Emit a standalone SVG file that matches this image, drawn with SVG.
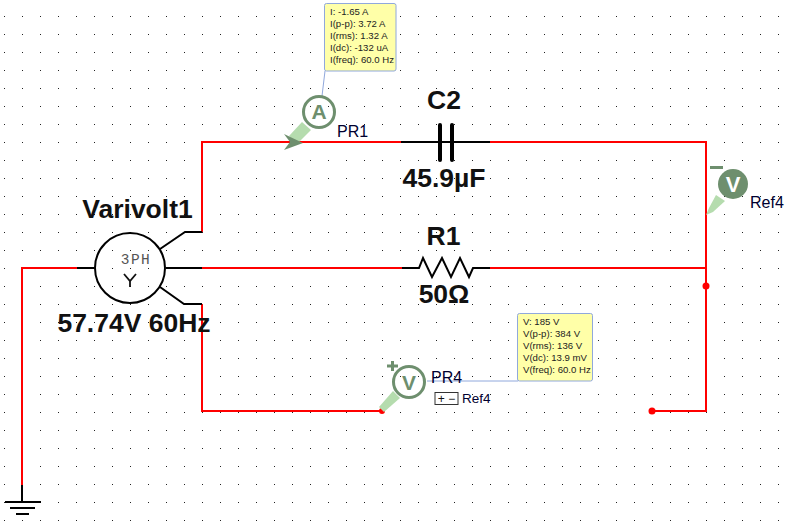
<svg xmlns="http://www.w3.org/2000/svg" width="790" height="523" viewBox="0 0 790 523">
<style>
text{font-family:"Liberation Sans",Arial,sans-serif;fill:#000}
.lab{font-size:26.5px;font-weight:bold;fill:#111}
.net{font-size:16px;fill:#000030}
.tip{font-size:9.6px;fill:#222}
.r{fill:none;stroke:#ff0000;stroke-width:2}
.k{fill:none;stroke:#000;stroke-width:2}
.tb{fill:#ffffa8;stroke:#90a8dc;stroke-width:1}
.lead{fill:none;stroke:#90a8dc;stroke-width:1}
.ring{fill:none;stroke:#6e8f6e;stroke-width:3}
.probe{fill:#b5dcae}
.dk{fill:#6e8f6e}
.gl{font-size:21px;font-weight:bold;fill:#6e8f6e}
</style>
<defs><pattern id="grid" x="0" y="0" width="18" height="18" patternUnits="userSpaceOnUse"><rect x="4" y="16" width="1" height="1" fill="#222"/></pattern></defs>
<rect width="790" height="523" fill="#fff"/>
<rect width="790" height="523" fill="url(#grid)"/>
<g id="connectors">
<path class="r" d="M77 268H22V485"/>
<path class="r" d="M202 232V142H401"/>
<path class="r" d="M490 142H706V411H652"/>
<path class="r" d="M202 268H402"/>
<path class="r" d="M490 268H706"/>
<path class="r" d="M202 304V411H382"/>
<circle cx="706" cy="286" r="3.500" fill="#ff0000"/>
<circle cx="652" cy="411" r="3.500" fill="#ff0000"/>
<circle cx="382" cy="411" r="3" fill="#ff0000"/>
</g>
<g id="Varivolt1">
<circle cx="130" cy="268" r="35" fill="none" stroke="#000" stroke-width="2"/>
<path class="k" d="M77 268H94M166 268H202M160 249L185 232H202M160 287L184 304H202"/>
<text x="136" y="264" text-anchor="middle" style="font-family:'Liberation Mono',monospace;font-size:14.500px;letter-spacing:1.500px;fill:#555">3PH</text>
<path d="M124 274L130 281L136 274M130 281V287" fill="none" stroke="#111" stroke-width="1.800"/>
<text class="lab" x="137.500" y="218" text-anchor="middle">Varivolt1</text>
<text class="lab" x="134" y="332" text-anchor="middle">57.74V 60Hz</text>
</g>
<g id="C2">
<path class="k" d="M401 142H490"/>
<path d="M440 125V160M452 125V160" fill="none" stroke="#000" stroke-width="4" stroke-linecap="round"/>
<text class="lab" x="444" y="109" text-anchor="middle">C2</text>
<text class="lab" x="444" y="187" text-anchor="middle">45.9µF</text>
</g>
<g id="R1">
<path class="k" d="M402 268H419L423 258L432 277L442 258L451 277L460 258L469 277L473 268H490"/>
<text class="lab" x="443.500" y="245" text-anchor="middle">R1</text>
<text class="lab" x="444" y="303" text-anchor="middle">50Ω</text>
</g>
<g id="ground">
<path class="k" d="M22 485V502"/>
<path class="k" d="M5 502H41M10 508H35M16 514H29"/>
</g>
<g id="PR1">
<path class="lead" d="M325 71L322 96"/>
<rect class="tb" x="324.500" y="3.500" width="71.500" height="67.500" rx="2"/>
<text class="tip"><tspan x="330" y="15">I: -1.65 A</tspan><tspan x="330" y="27">I(p-p): 3.72 A</tspan><tspan x="330" y="39">I(rms): 1.32 A</tspan><tspan x="330" y="51">I(dc): -132 uA</tspan><tspan x="330" y="63">I(freq): 60.0 Hz</tspan></text>
<path class="probe" d="M302 122L311 130L297 144L289 136Z"/>
<path class="dk" d="M284 134L303 143L284 150L290 142Z"/>
<circle class="ring" cx="319" cy="112" r="15.500"/>
<text class="gl" x="319" y="119" text-anchor="middle">A</text>
<text class="net" x="337" y="137">PR1</text>
</g>
<g id="PR4">
<path class="lead" d="M427 381H518"/>
<rect class="tb" x="517.500" y="313.500" width="75" height="67.500" rx="2"/>
<text class="tip"><tspan x="523" y="325">V: 185 V</tspan><tspan x="523" y="337">V(p-p): 384 V</tspan><tspan x="523" y="349">V(rms): 136 V</tspan><tspan x="523" y="361">V(dc): 13.9 mV</tspan><tspan x="523" y="373">V(freq): 60.0 Hz</tspan></text>
<path class="probe" d="M393 391L400 398L384 412L379 407Z"/>
<path class="dk" d="M391 361H394V364.500H398V367.500H394V371H391V367.500H387V364.500H391Z"/>
<circle class="ring" cx="409" cy="382" r="15.500"/>
<text class="gl" x="409" y="390" text-anchor="middle">V</text>
<text class="net" x="431" y="383">PR4</text>
<rect x="435" y="392.500" width="23" height="12" fill="#fff" stroke="#333" stroke-width="1"/>
<text x="446.500" y="403" text-anchor="middle" style="font-size:12px;fill:#111">+ −</text>
<text x="462" y="403" style="font-size:13.500px;fill:#000030">Ref4</text>
</g>
<g id="Ref4">
<path class="probe" d="M716 195L725 201L713 212L706 215L709 208Z"/>
<path class="dk" d="M710 166H723V169H710Z"/>
<circle class="dk" cx="733" cy="184" r="15"/>
<text x="733" y="192" text-anchor="middle" style="font-size:22px;font-weight:bold;fill:#fff">V</text>
<text x="750" y="208" style="font-size:16px;fill:#000030">Ref4</text>
</g>
</svg>
